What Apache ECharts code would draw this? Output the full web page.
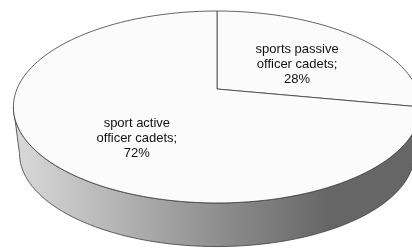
<!DOCTYPE html>
<html>
<head>
<meta charset="utf-8">
<script src="https://cdn.jsdelivr.net/npm/echarts@6/dist/echarts.min.js"></script>
<style>
html, body { margin: 0; padding: 0; background: #fff; }
#chart { width: 412px; height: 248px; }
</style>
</head>
<body>
<div id="chart"></div>
<script>
// slices, clockwise from 12 o'clock
var categories = ['sports passive\nofficer cadets', 'sport active\nofficer cadets'];
var values = [28, 72];

var chart = echarts.init(document.getElementById('chart'));

// 3d pie geometry (px)
var cx = 217, cy = 89;     // centre of the top face
var rx = 200, rz = 92.6;   // half width / half depth of the top face
var persp = 0.1875;        // far edge looks smaller
var depth = 47, shrink = 0.97;

var total = values.reduce(function (a, b) { return a + b; }, 0);
var starts = [];
var acc = 0;
values.forEach(function (v) { starts.push(acc / total * 360); acc += v; });

function proj(deg, r, bottom) {
  var t = deg * Math.PI / 180;
  var X = r * Math.sin(t), Z = r * Math.cos(t);
  var d = 1 + persp * Z;
  var x = cx + rx * X / d, y = cy - rz * Z / d;
  if (bottom) {
    x = cx + shrink * (x - cx);
    y = cy + depth + shrink * (y - cy);
  }
  return [x, y];
}

function arc(a, b, bottom) {
  var pts = [];
  var n = Math.max(2, Math.ceil(Math.abs(b - a) / 2));
  for (var i = 0; i <= n; i++) pts.push(proj(a + (b - a) * i / n, 1, bottom));
  return pts;
}

// angles where the rim turns out of sight
var edge = Math.acos(-persp) * 180 / Math.PI;

var sideFill = new echarts.graphic.LinearGradient(13, 0, 330, 0, [
  { offset: 0, color: '#dadada' },
  { offset: 1, color: '#666666' }
], true);

function renderItem(params, api) {
  var i = params.dataIndex;
  var a = starts[i];
  var b = a + api.value(0) / total * 360;
  var children = [];

  var sa = Math.max(a, edge), sb = Math.min(b, 360 - edge);
  if (sb > sa) {
    children.push({
      type: 'polygon',
      z2: 1,
      shape: { points: arc(sa, sb, false).concat(arc(sb, sa, true)) },
      style: { fill: sideFill, stroke: '#3c3c3c', lineWidth: 0.8 }
    });
  }

  children.push({
    type: 'polygon',
    z2: 2,
    shape: { points: [[cx, cy]].concat(arc(a, b, false)) },
    style: { fill: '#fbfbfb', stroke: '#3c3c3c', lineWidth: 0.8 }
  });

  var mid = (a + b) / 2 * Math.PI / 180;
  children.push({
    type: 'text',
    z2: 3,
    style: {
      text: categories[i] + ';\n' + Math.round(api.value(0) / total * 100) + '%',
      x: cx + 0.52 * rx * Math.sin(mid),
      y: cy + 12 - 58 * Math.cos(mid),
      align: 'center',
      verticalAlign: 'middle',
      font: '13px "Liberation Sans", Arial, sans-serif',
      lineHeight: 15,
      fill: '#111'
    }
  });

  return { type: 'group', children: children };
}

chart.setOption({
  backgroundColor: '#fff',
  animation: false,
  series: [{
    type: 'custom',
    coordinateSystem: 'none',
    silent: true,
    renderItem: renderItem,
    data: values.map(function (v, i) { return { name: categories[i], value: v }; })
  }]
});
</script>
</body>
</html>
